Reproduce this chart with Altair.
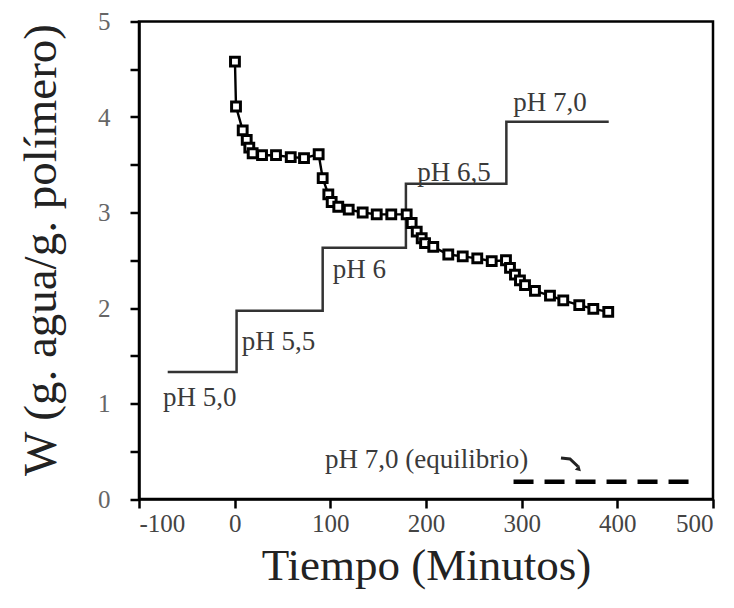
import altair as alt
import pandas as pd

# Swelling data (Tiempo, W)
tiempo = [0.3, 1.4, 8.4, 12.6, 15.3, 18.8, 28.6, 43.2, 58.6, 72.5, 87.8, 92, 97.9, 101.4,
          108.3, 119.2, 133.8, 148.5, 163.7, 179.8, 185, 190.3, 195.5, 199, 207.6, 223.3,
          238.4, 253.6, 268.7, 283.6, 287.8, 293, 298.2, 303.5, 313.9, 329.6, 343.5, 360.2,
          374.9, 390.5]
w_val = [4.58, 4.11, 3.86, 3.76, 3.68, 3.62, 3.60, 3.60, 3.58, 3.57, 3.61, 3.36, 3.19, 3.11,
         3.06, 3.03, 3.00, 2.98, 2.98, 2.98, 2.89, 2.80, 2.73, 2.68, 2.64, 2.56,
         2.54, 2.52, 2.49, 2.50, 2.42, 2.35, 2.29, 2.24, 2.18, 2.13, 2.08, 2.03,
         1.99, 1.96]

# pH step profile (step-after)
step_t = [-70, 2, 92, 179, 284, 391]
step_w = [1.33, 1.97, 2.63, 3.30, 3.95, 3.95]

# Equilibrium dashed line
eq_t = [291.5, 484.6]
eq_w = [0.18, 0.18]

# Labels
lab_text = ["pH 5,0", "pH 5,5", "pH 6", "pH 6,5", "pH 7,0", "pH 7,0 (equilibrio)"]
lab_t = [-74.9, 7.3, 102.5, 190.9, 291.3, 94.4]
lab_w = [0.97, 1.56, 2.31, 3.33, 4.06, 0.32]

# Small pointer arrow
arrow_t = [341.1, 350.5, 358.9]
arrow_w = [0.43, 0.42, 0.34]
head_t = [359.9]
head_w = [0.31]

data_df = pd.DataFrame({"t": tiempo, "w": w_val})
step_df = pd.DataFrame({"t": step_t, "w": step_w})
eq_df = pd.DataFrame({"t": eq_t, "w": eq_w})
lab_df = pd.DataFrame({"t": lab_t, "w": lab_w, "label": lab_text})
arr_df = pd.DataFrame({"t": arrow_t, "w": arrow_w, "o": [0, 1, 2]})
head_df = pd.DataFrame({"t": head_t, "w": head_w})

FONT = "Liberation Serif"

xs = alt.Scale(domain=[-100, 500], nice=False, zero=False)
ys = alt.Scale(domain=[0, 5], nice=False)

x_axis = alt.Axis(values=[-100, 0, 100, 200, 300, 400, 500], title="Tiempo (Minutos)",
                  labelExpr="'' + datum.value", labelColor="#444444",
                  titleBaseline="alphabetic", titleY=80, labelPadding=3)
y_axis = alt.Axis(values=[0, 0.5, 1, 1.5, 2, 2.5, 3, 3.5, 4, 4.5, 5],
                  labelExpr="datum.value % 1 === 0 ? ('' + datum.value) : ''",
                  labelColor="#666666",
                  title="W (g. agua/g. polímero)", titleFontSize=47,
                  titleX=-84, titleY=228, titleBaseline="alphabetic", titleAlign="center",
                  titleAngle=-90, labelPadding=20)

X = alt.X("t:Q", scale=xs, axis=x_axis)
Y = alt.Y("w:Q", scale=ys, axis=y_axis)

step = alt.Chart(step_df).mark_line(interpolate="step-after", color="#333333",
                                    strokeWidth=2.5).encode(x=X, y=Y)
line = alt.Chart(data_df).mark_line(color="black", strokeWidth=2.4).encode(x=X, y=Y)
pts = alt.Chart(data_df).mark_point(shape="square", filled=True, fill="white",
                                    stroke="black", strokeWidth=3, size=78,
                                    opacity=1).encode(x=X, y=Y)
eq = alt.Chart(eq_df).mark_line(color="black", strokeWidth=4.5,
                                strokeDash=[20, 11]).encode(x=X, y=Y)
labels = alt.Chart(lab_df).mark_text(align="left", baseline="alphabetic", font=FONT,
                                     fontSize=27, color="#3a3a3a").encode(
    x=X, y=Y, text="label:N")
arrow = alt.Chart(arr_df).mark_line(color="#222222", strokeWidth=3).encode(
    x=X, y=Y, order="o:Q")
head = alt.Chart(head_df).mark_point(shape="triangle-up", filled=True, color="#222222",
                                     size=40, angle=135, opacity=1).encode(x=X, y=Y)

chart = alt.layer(step, line, pts, eq, labels, arrow, head).properties(
    width=574, height=477.5,
    autosize=alt.AutoSizeParams(type="none"),
    padding={"left": 131, "top": 13.5, "right": 10, "bottom": 95},
    background="white",
).configure_view(
    stroke="black", strokeWidth=2.5
).configure_axis(
    domainColor="black", domainWidth=2.5, tickColor="black", tickWidth=2.5,
    tickSize=9, grid=False, labelFont=FONT, labelFontSize=25, labelColor="#555555",
    titleFont=FONT, titleFontSize=45, titleFontWeight="normal", titleColor="#222222",
)

chart.save("out.html", embed_options={"renderer": "svg", "actions": False})
